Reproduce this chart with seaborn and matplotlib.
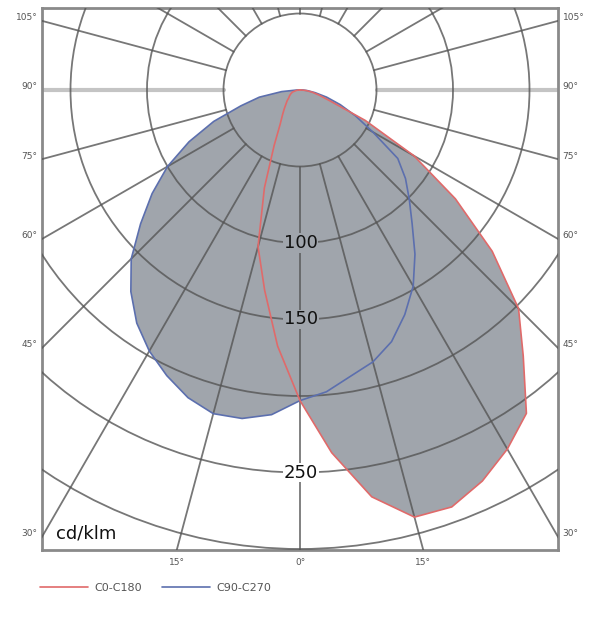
import numpy as np
import pandas as pd
import matplotlib
matplotlib.use("Agg")
import matplotlib.pyplot as plt
from matplotlib.patches import Circle
import seaborn as sns

# -------------------------
# data (cd/klm), gamma measured from nadir
# -------------------------
GAMMA = [0, 5, 10, 15, 20, 25, 30, 35, 40, 45, 50, 55, 60, 65, 70, 75, 80, 85, 90]
C0 = [203, 238, 270, 289, 290, 282, 271, 258, 227, 202, 164, 124, 86, 47, 21, 13, 8, 4, 1]
C180 = [203, 168, 133, 106, 68, 40, 26, 20, 16, 13, 11, 9, 8, 7, 6, 5, 3, 2, 1]
C90 = [203, 198, 190, 184, 175, 162, 148, 131, 114, 101, 90, 78, 55, 40, 28, 18, 10, 5, 2]
C270 = [203, 213, 218, 219, 214, 206, 197, 186, 172, 156, 136, 118, 100, 80, 60, 40, 27, 12, 2]

RINGS = [50, 100, 150, 200, 250, 300, 350]
RING_LABELS = [100, 150, 250]
SIDE_TICKS = [105, 90, 75, 60, 45, 30]
BOTTOM_TICKS = [-15, 0, 15]

FILL = "#a0a5ac"
RED = "#e06a6a"
BLUE = "#5c6fae"
GRID = "#555555"


def profile(right, left):
    g = np.radians(GAMMA)
    r_r, r_l = np.array(right, float), np.array(left, float)
    xl, yl = -r_l * np.sin(g), -r_l * np.cos(g)
    xr, yr = r_r * np.sin(g), -r_r * np.cos(g)
    x = np.concatenate([[0], xl[::-1], xr[1:], [0]])
    y = np.concatenate([[0], yl[::-1], yr[1:], [0]])
    return pd.DataFrame({"x": x, "y": y})


red = profile(C0, C180)
blue = profile(C90, C270)

sns.set_theme(style="white")
plt.rcParams["font.family"] = ["DejaVu Sans"]

fig = plt.figure(figsize=(6.0, 6.23), dpi=100)
ax = fig.add_axes([42 / 600, 73 / 623, 516 / 600, 542 / 623])
XMAX = 258 / 1.53
YTOP = 82 / 1.53
YBOT = -460 / 1.53
ax.set_xlim(-XMAX, XMAX)
ax.set_ylim(YBOT, YTOP)
ax.set_aspect("equal")
ax.set_xticks([])
ax.set_yticks([])
for sp in ax.spines.values():
    sp.set_color("#8a8a8a")
    sp.set_linewidth(2)

# fill (union of both planes)
ax.fill(blue["x"], blue["y"], color=FILL, lw=0, zorder=1)
ax.fill(red["x"], red["y"], color=FILL, lw=0, zorder=1)

# polar grid
for r in RINGS:
    ax.add_patch(Circle((0, 0), r, fill=False, ec=GRID, lw=1.3, alpha=0.8, zorder=3))
for a in range(0, 360, 15):
    t = np.radians(a)
    xs = [50 * np.sin(t), 450 * np.sin(t)]
    ys = [-50 * np.cos(t), -450 * np.cos(t)]
    if a in (90, 270):
        ax.plot(xs, ys, color="#c4c4c4", lw=3, zorder=2)
    else:
        ax.plot(xs, ys, color=GRID, lw=1.3, alpha=0.8, zorder=3)

# curves
sns.lineplot(data=blue, x="x", y="y", sort=False, estimator=None, color=BLUE,
             lw=1.2, ax=ax, label="C90-C270", zorder=4)
sns.lineplot(data=red, x="x", y="y", sort=False, estimator=None, color=RED,
             lw=1.2, ax=ax, label="C0-C180", zorder=4)

# ring labels
for v in RING_LABELS:
    bg = "white" if v >= 250 else FILL
    ax.text(0.5, -v, str(v), ha="center", va="center", fontsize=13, color="#111111",
            bbox=dict(facecolor=bg, edgecolor="none", pad=0.5), zorder=5)

ax.text(-XMAX + 9, YBOT + 11, "cd/klm", ha="left", va="center", fontsize=13,
        color="#111111", bbox=dict(facecolor="white", edgecolor="none", pad=1), zorder=5)

# side angle labels
for a in SIDE_TICKS:
    t = np.radians(a)
    y = -XMAX / np.sin(t) * np.cos(t)
    ax.text(-XMAX - 3, y + 2, f"{a}°", ha="right", va="center", fontsize=6.5,
            color="#555555", clip_on=False)
    ax.text(XMAX + 3, y + 2, f"{a}°", ha="left", va="center", fontsize=6.5,
            color="#555555", clip_on=False)
for a in BOTTOM_TICKS:
    t = np.radians(a)
    x = -YBOT * np.tan(t)
    ax.text(x, YBOT - 5, f"{abs(a)}°", ha="center", va="top", fontsize=6.5,
            color="#555555", clip_on=False)

h, l = ax.get_legend_handles_labels()
ax.legend(h[::-1], l[::-1], loc="upper left", bbox_to_anchor=(40 / 600, 1 - 583 / 623),
          bbox_transform=fig.transFigure, ncol=2, frameon=False, fontsize=8,
          handlelength=4.3, handletextpad=0.6, columnspacing=1.8,
          borderpad=0, borderaxespad=0, labelcolor="#555555")

fig.savefig("out.png", dpi=100)
